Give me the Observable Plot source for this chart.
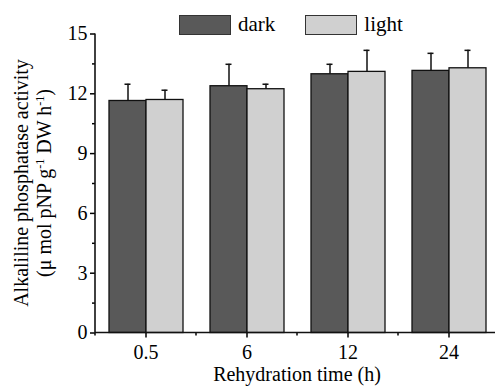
<!DOCTYPE html>
<html>
<head>
<meta charset="utf-8">
<script src="https://cdn.jsdelivr.net/npm/d3@7"></script>
<script src="https://cdn.jsdelivr.net/npm/@observablehq/plot@0.6"></script>
<style>
  html, body { margin: 0; padding: 0; background: #fff; overflow: hidden; }
  #wrap { position: relative; width: 495px; height: 390px; font-family: "Liberation Serif", "Times New Roman", "DejaVu Serif", serif; }
  #legend { position: absolute; top: 12px; left: 179px; display: flex; align-items: center; font-size: 21px; color: #000; }
  .item { display: flex; align-items: center; margin-right: 30px; }
  .sw { width: 50px; height: 18px; border: 1px solid #333; margin-right: 7px; }
  svg text { font-family: "Liberation Serif", "Times New Roman", "DejaVu Serif", serif; }
</style>
</head>
<body>
<div id="wrap"></div>
<script>
const times = ["0.5", "6", "12", "24"];
const conditions = ["dark", "light"];
const darkMean  = [11.64, 12.38, 12.98, 13.15];
const darkErr   = [0.84, 1.10, 0.50, 0.88];
const lightMean = [11.69, 12.23, 13.10, 13.28];
const lightErr  = [0.49, 0.25, 1.08, 0.90];
const yTicks = [0, 3, 6, 9, 12, 15];
const yMinorTicks = [1.5, 4.5, 7.5, 10.5, 13.5];
const colors = ["#595959", "#d0d0d0"];

const table = times.flatMap((t, i) => [
  {time: t, condition: "dark", mean: darkMean[i], err: darkErr[i]},
  {time: t, condition: "light", mean: lightMean[i], err: lightErr[i]}
]);

const W = 495, H = 390, mL = 95, mR = -4, mT = 33.5, mB = 57.5;
const FONT = '"Liberation Serif", "Times New Roman", "DejaVu Serif", serif';

const plot = Plot.plot({
  width: W, height: H,
  marginLeft: mL, marginRight: mR, marginTop: mT, marginBottom: mB,
  style: {fontFamily: FONT, fontSize: "20px", color: "#000", background: "transparent", overflow: "visible"},
  fx: {domain: times, padding: 0, label: null},
  x: {domain: conditions, paddingInner: 0, paddingOuter: 0.347, axis: null},
  y: {domain: [0, 15], axis: null},
  color: {domain: conditions, range: colors},
  marks: [
    Plot.barY(table, {fx: "time", x: "condition", y: "mean", fill: "condition", stroke: "#111", strokeWidth: 1.3}),
    Plot.ruleX(table, {fx: "time", x: "condition", y1: "mean", y2: d => d.mean + d.err, stroke: "#111", strokeWidth: 1.5}),
    Plot.tickY(table, {fx: "time", x: "condition", y: d => d.mean + d.err, insetLeft: 15.5, insetRight: 15.5, stroke: "#111", strokeWidth: 1.5}),
    Plot.axisY({ticks: yTicks, tickSize: 5, tickPadding: 3, label: null, fontSize: 20, strokeWidth: 1.5}),
    Plot.axisY({ticks: yMinorTicks, tickSize: 3, text: null, label: null, strokeWidth: 1.5}),
    Plot.axisFx({anchor: "bottom", tickSize: 5, tickPadding: 7, label: null, fontSize: 20, strokeWidth: 1.5})
  ]
});

const svg = d3.select(plot);
const y = plot.scale("y");
const fx = plot.scale("fx");
const left = fx.apply(times[0]);
const right = fx.apply(times[times.length - 1]) + fx.bandwidth;
const y0 = y.apply(0), y15 = y.apply(15);

const g = svg.append("g").attr("stroke", "#111").attr("stroke-width", 1.6).attr("fill", "none");
g.append("line").attr("x1", left).attr("x2", left).attr("y1", y15).attr("y2", y0);
g.append("line").attr("x1", left).attr("x2", right).attr("y1", y0).attr("y2", y0);
times.concat([null]).forEach((t) => {
  const xb = t === null ? right : fx.apply(t);
  g.append("line").attr("x1", xb).attr("x2", xb).attr("y1", y0).attr("y2", y0 + 3);
});

svg.append("text")
  .attr("x", (left + right) / 2).attr("y", 381)
  .attr("text-anchor", "middle").attr("font-size", 20).attr("fill", "#000")
  .text("Rehydration time (h)");

const cy = (y0 + y15) / 2;
const yt = svg.append("g").attr("transform", `rotate(-90)`).attr("font-size", 20).attr("fill", "#000").attr("text-anchor", "middle");
yt.append("text").attr("x", -cy).attr("y", 28).text("Alkaliline phosphatase activity");
const l2 = yt.append("text").attr("x", -cy).attr("y", 51);
l2.append("tspan").text("(μ mol pNP g");
l2.append("tspan").attr("baseline-shift", "super").attr("font-size", 12).text("-1");
l2.append("tspan").text(" DW h");
l2.append("tspan").attr("baseline-shift", "super").attr("font-size", 12).text("-1");
l2.append("tspan").text(")");

const wrap = document.getElementById("wrap");
wrap.appendChild(plot);
plot.style.position = "absolute";
plot.style.left = "0px";
plot.style.top = "0px";

const legend = d3.select(wrap).append("div").attr("id", "legend");
conditions.forEach((c, i) => {
  const it = legend.append("div").attr("class", "item");
  it.append("div").attr("class", "sw").style("background", colors[i]);
  it.append("span").text(c);
});
</script>
</body>
</html>
